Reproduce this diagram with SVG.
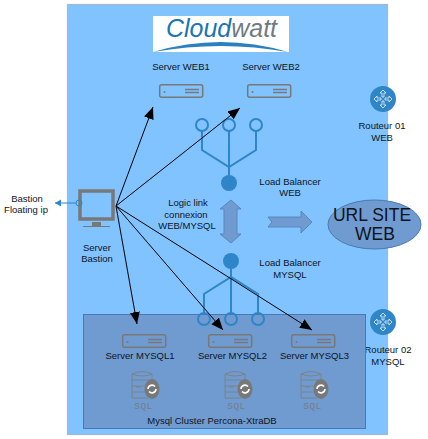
<svg xmlns="http://www.w3.org/2000/svg" width="428" height="439" viewBox="0 0 428 439">
<style>
text{font-family:"Liberation Sans",Arial,sans-serif;font-size:9.5px;fill:#10141c;text-anchor:middle}
.lb{fill:none;stroke:#2e85c8;stroke-width:2}
.cn{fill:none;stroke:#000;stroke-width:1}
.ic{fill:none;stroke:#787878;stroke-width:1.500}
.il{fill:none;stroke:#7d8288;stroke-width:1}
.ring{fill:none;stroke:#2e85c8;stroke-width:2}
.logo{font-size:26px;font-style:italic;text-anchor:start}
</style>
<defs>
<marker id="a" markerWidth="13" markerHeight="11" refX="12" refY="5" orient="auto" markerUnits="userSpaceOnUse"><path d="M0 0L12 5L0 10z" fill="#000"/></marker>
<marker id="b" markerWidth="8" markerHeight="8" refX="6" refY="3.500" orient="auto" markerUnits="userSpaceOnUse"><path d="M0 0L6 3.500L0 7z" fill="#2e85c8"/></marker>
<g id="srv"><rect x=".7" y=".7" width="43" height="12.600" rx="2" class="ic"/><circle cx="5.500" cy="8" r="1" fill="#787878"/><path d="M26 5.500H40M26 8.500H40" class="ic"/></g>
<g id="db"><path d="M1 4Q11 -1 21 4V10M1 4V28H17M1 10H18M1 16H14M1 22H14M1 4Q11 8 21 4M5 17H10" class="il"/><ellipse cx="21" cy="19" rx="7.500" ry="10" fill="#787878"/><path d="M17 19a4 4 0 0 1 7-2.500M25 19a4 4 0 0 1-7 2.500" fill="none" stroke="#fff" stroke-width="1.600"/><text x="12.500" y="39" style="font-size:9.500px;fill:#787c84;letter-spacing:.5px;font-family:'Liberation Mono',monospace">SQL</text></g>
<g id="rt"><circle r="13" fill="#2e85c8"/><path d="M0-9L-3-6H-1V-2H1V-6H3ZM0 9L-3 6H-1V2H1V6H3ZM-9 0L-6-3V-1H-2V1H-6V3ZM9 0L6-3V-1H2V1H6V3Z" fill="none" stroke="#fff" stroke-width=".7"/></g>
</defs>
<rect x="67.500" y="4.500" width="320" height="430" fill="#80c3ff" stroke="#a4b8d4" stroke-width="1.200"/>
<g id="logo"><rect x="153" y="16" width="136" height="36" fill="#fff"/>
<text class="logo" x="166" y="37" textLength="111" lengthAdjust="spacingAndGlyphs"><tspan style="fill:#1a75b0">Cloud</tspan><tspan style="fill:#707a84">watt</tspan></text>
<path d="M153 52Q221 32 288 52Q221 40 153 52z" fill="#2a80c0"/></g>
<g id="web1"><use href="#srv" x="159" y="84"/><text x="181" y="70">Server WEB1</text></g>
<g id="web2"><use href="#srv" x="247" y="84"/><text x="271" y="70">Server WEB2</text></g>
<g id="r1"><use href="#rt" x="383" y="99"/><text x="382" y="129">Routeur 01</text><text x="382" y="141">WEB</text></g>
<g id="r2"><use href="#rt" x="383" y="322"/><text x="388" y="353">Routeur 02</text><text x="388" y="365">MYSQL</text></g>
<g id="lbweb"><path class="lb" d="M202 131V150L229 167L256 150V131M229 131V175"/><circle cx="202" cy="125" r="6" class="ring"/><circle cx="229" cy="125" r="6" class="ring"/><circle cx="256" cy="125" r="6" class="ring"/><circle cx="229" cy="183" r="8" fill="#2e85c8"/><text x="290" y="185">Load Balancer</text><text x="290" y="196">WEB</text></g>
<g id="logic"><path d="M231 200L241 209H237V234H241L231 243L220 234H224V209H220Z" fill="#6f9bd1" stroke="#5a86bc"/><text x="188" y="206">Logic link</text><text x="186" y="218">connexion</text><text x="187" y="229">WEB/MYSQL</text></g>
<g id="flow"><path d="M268 217H301V211L312 222L301 233V227H268L272 222Z" fill="#6f9bd1" stroke="#5a86bc"/></g>
<g id="url"><ellipse cx="374.500" cy="224.500" rx="46.500" ry="24.500" fill="#6f9bd1" stroke="#4a78b0"/><text x="372" y="221" style="font-size:17.500px">URL SITE</text><text x="375" y="240" style="font-size:17.500px">WEB</text></g>
<g id="cluster"><rect x="83.500" y="314.500" width="282" height="114" fill="#6f9bd1" stroke="#4a78b0"/><text x="212" y="424">Mysql Cluster Percona-XtraDB</text></g>
<g id="lbmysql"><path class="lb" d="M231 269V313M204 313V294L231 277L258 294V313"/><circle cx="204" cy="319" r="6" class="ring"/><circle cx="231" cy="319" r="6" class="ring"/><circle cx="258" cy="319" r="6" class="ring"/><circle cx="231" cy="261" r="8" fill="#2e85c8"/><text x="290" y="266">Load Balancer</text><text x="290" y="278">MYSQL</text></g>
<g id="m1"><use href="#srv" x="122" y="334"/><text x="140" y="359">Server MYSQL1</text><use href="#db" x="131" y="370"/></g>
<g id="m2"><use href="#srv" x="208" y="334"/><text x="232.500" y="359">Server MYSQL2</text><use href="#db" x="224" y="370"/></g>
<g id="m3"><use href="#srv" x="291" y="334"/><text x="314.500" y="359">Server MYSQL3</text><use href="#db" x="300" y="370"/></g>
<g id="bastion"><rect x="80" y="191" width="33" height="28" fill="none" stroke="#787878" stroke-width="3.500"/><path d="M92 222H101V226H92Z" fill="#787878"/><path d="M83 226.500H110" stroke="#787878"/><text x="97" y="251">Server</text><text x="97" y="262">Bastion</text><text x="27" y="202">Bastion</text><text x="26" y="213">Floating ip</text></g>
<g id="connectors">
<circle cx="79" cy="203" r="3" fill="none" stroke="#2e85c8"/>
<path d="M76 203H55" fill="none" stroke="#2e85c8" marker-end="url(#b)"/>
<path class="cn" marker-end="url(#a)" d="M116 206L153 107"/>
<path class="cn" marker-end="url(#a)" d="M116 206L240 108"/>
<path class="cn" marker-end="url(#a)" d="M116 206L137 324"/>
<path class="cn" marker-end="url(#a)" d="M116 206L223 330"/>
<path class="cn" marker-end="url(#a)" d="M116 206L312 330"/>
</g>
</svg>
